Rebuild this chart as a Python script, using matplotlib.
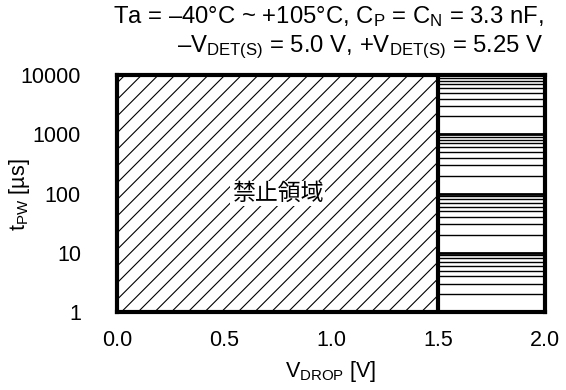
import numpy as np
import matplotlib
matplotlib.use("Agg")
import matplotlib.pyplot as plt

plt.rcParams['font.family'] = ['Liberation Sans', 'DejaVu Sans']
plt.rcParams['mathtext.fontset'] = 'custom'
plt.rcParams['mathtext.rm'] = 'Liberation Sans'
plt.rcParams['mathtext.it'] = 'Liberation Sans'
plt.rcParams['hatch.linewidth'] = 0.8

# data
x_ticks = [0.0, 0.5, 1.0, 1.5, 2.0]
x_ticklabels = ["0.0", "0.5", "1.0", "1.5", "2.0"]
y_ticks = [1, 10, 100, 1000, 10000]
y_ticklabels = ["1", "10", "100", "1000", "10000"]
forbidden_x = [0.0, 1.5]
allowed_x = [1.5, 2.0]
y_range = [1, 10000]
region_label = "禁止領域"
region_label_pos = (0.75, 100)

fig = plt.figure(figsize=(5.66, 3.9), dpi=100)
ax = fig.add_axes([117/566, 1 - 312/390, (545-117)/566, (312-75)/390])
ax.set_yscale('log')
ax.set_xlim(x_ticks[0], x_ticks[-1])
ax.set_ylim(y_range[0], y_range[1])

# forbidden region hatch
ax.fill_between(forbidden_x, y_range[0], y_range[1], facecolor='white',
                edgecolor='black', hatch='//', linewidth=0, zorder=1)

# horizontal grid lines in allowed region
for d in y_ticks[:-1]:
    for m in range(1, 10):
        v = d * m
        lw = 2.0 if m == 1 else 1.0
        if v <= y_range[0]:
            continue
        ax.plot(allowed_x, [v, v], color='black', lw=lw, zorder=2,
                solid_capstyle='butt')

ax.axvline(1.5, color='black', lw=3, zorder=3)
for s in ax.spines.values():
    s.set_linewidth(3)
    s.set_zorder(4)

ax.set_xticks(x_ticks)
ax.set_xticklabels(x_ticklabels)
ax.set_yticks(y_ticks)
ax.set_yticklabels(y_ticklabels)
ax.yaxis.set_minor_locator(matplotlib.ticker.NullLocator())
ax.tick_params(axis='both', length=0, labelsize=15.5)
ax.tick_params(axis='y', pad=26)
ax.tick_params(axis='x', pad=13)

ax.text(region_label_pos[0], region_label_pos[1], region_label,
        fontsize=16.5, ha='center', va='center',
        family=['Noto Sans CJK JP', 'DejaVu Sans'],
        bbox=dict(facecolor='white', edgecolor='none', pad=1), zorder=5)

fig.text(20/566, 1 - 195/390, r"t$_\mathrm{PW}$ [µs]", rotation=90,
         ha='center', va='center', fontsize=15.5)
fig.text(331/566, 1 - 372/390, r"V$_\mathrm{DROP}$ [V]", ha='center',
         va='center', fontsize=15.5)

fig.text(544/566, 1 - 17/390,
         r"Ta = –40°C ~ +105°C, C$_\mathrm{P}$ = C$_\mathrm{N}$ = 3.3 nF,",
         ha='right', va='center', fontsize=17.2)
fig.text(544/566, 1 - 47/390,
         r"–V$_\mathrm{DET(S)}$ = 5.0 V, +V$_\mathrm{DET(S)}$ = 5.25 V",
         ha='right', va='center', fontsize=17.2)

fig.savefig("out.png", dpi=100)
